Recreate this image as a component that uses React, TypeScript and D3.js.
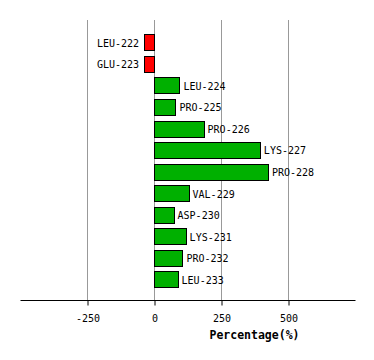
import { useEffect, useRef } from 'react';
import * as d3 from 'd3';

const residues = ['LEU-222', 'GLU-223', 'LEU-224', 'PRO-225', 'PRO-226', 'LYS-227', 'PRO-228', 'VAL-229', 'ASP-230', 'LYS-231', 'PRO-232', 'LEU-233'];
const percentages = [-37, -37, 95, 80, 185, 395, 425, 129, 73, 118, 106, 88];
const tickValues = [-250, 0, 250, 500];

export default function App() {
  const svgRef = useRef<SVGSVGElement>(null);

  useEffect(() => {
    if (!svgRef.current) return;
    const width = 374;
    const height = 360;
    const svg = d3.select(svgRef.current);
    svg.selectAll('*').remove();

    const axisY = 300.5;
    const x = d3.scaleLinear().domain([-500, 750]).range([20, 355]);
    const y = d3.scaleBand<string>().domain(residues).range([31.5, 290]).paddingInner(0.27).paddingOuter(0.13);

    // Grid
    svg.append('g')
      .selectAll('line')
      .data(tickValues)
      .join('line')
      .attr('x1', d => Math.round(x(d)) + 0.5).attr('x2', d => Math.round(x(d)) + 0.5)
      .attr('y1', 20).attr('y2', axisY)
      .attr('stroke', '#999')
      .attr('stroke-width', 1);

    // Bars
    const data = residues.map((r, i) => ({ r, v: percentages[i] }));
    svg.append('g')
      .selectAll('rect')
      .data(data)
      .join('rect')
      .attr('x', d => Math.round(x(Math.min(0, d.v))) + 0.5)
      .attr('y', d => Math.round(y(d.r)!) + 0.5)
      .attr('width', d => Math.round(Math.abs(x(d.v) - x(0))))
      .attr('height', Math.round(y.bandwidth()))
      .attr('fill', d => (d.v < 0 ? '#FF0000' : '#00B000'))
      .attr('stroke', '#000')
      .attr('stroke-width', 1);

    svg.append('g')
      .selectAll('text')
      .data(data)
      .join('text')
      .attr('x', d => (d.v < 0 ? x(d.v) - 5 : x(d.v) + 4))
      .attr('y', d => y(d.r)! + y.bandwidth() / 2 + 1)
      .attr('dy', '0.35em')
      .attr('text-anchor', d => (d.v < 0 ? 'end' : 'start'))
      .attr('font-family', 'DejaVu Sans Mono, monospace')
      .attr('font-size', '10px')
      .attr('fill', '#000')
      .text(d => d.r);

    // Axis
    const axis = svg.append('g')
      .attr('transform', `translate(0.5,${axisY})`)
      .call(d3.axisBottom(x).tickValues(tickValues).tickSize(5).tickPadding(9).tickSizeOuter(0).tickFormat(d => `${d}`));
    axis.select('.domain').attr('stroke', '#000').attr('d', `M${x(-500)},0H${x(750)}`);
    axis.selectAll('.tick line').attr('stroke', '#000');
    axis.selectAll('text')
      .attr('fill', '#000')
      .attr('font-size', '10px')
      .attr('font-family', 'DejaVu Sans Mono, monospace');

    svg.append('text')
      .attr('x', 254.5).attr('y', 339)
      .attr('text-anchor', 'middle')
      .attr('font-family', 'DejaVu Sans Mono, monospace')
      .attr('font-weight', 'bold')
      .attr('font-size', '11.5px')
      .attr('fill', '#000')
      .text('Percentage(%)');

    svg.attr('width', width).attr('height', height);
  }, []);

  return (
    <div style={{ position: 'absolute', left: 0, top: 0 }}>
      <svg ref={svgRef} width={374} height={360} style={{ display: 'block', background: '#fff' }} />
    </div>
  );
}
